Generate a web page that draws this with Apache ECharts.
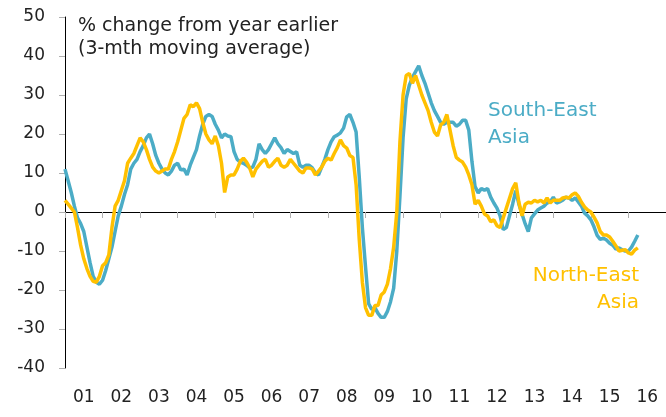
<!DOCTYPE html>
<html>
<head>
<meta charset="utf-8">
<script src="https://cdn.jsdelivr.net/npm/echarts@6/dist/echarts.min.js"></script>
<style>
  html, body { margin: 0; padding: 0; background: #fff; }
  #chart { width: 666px; height: 417px; }
</style>
</head>
<body>
<div id="chart"></div>
<script>
// 年份标签
var yearLabels = ['01', '02', '03', '04', '05', '06', '07', '08', '09', '10', '11', '12', '13', '14', '15', '16'];

// South-East Asia, 月度数据 (Jan 2001 - Apr 2016)
var southEast = [
    11, 8, 5, 1.5, -1.5, -3, -5, -9, -13, -16.5, -18, -18.5,
    -17.5, -15, -12, -9, -5, -1, 1.5, 4.5, 7, 11, 12.5, 13.5,
    15.5, 17, 19, 20, 17.5, 14.5, 12.5, 11, 10, 9.5, 10.5, 12,
    12.5, 10.8, 11, 9.5, 12, 14, 16, 19.5, 22.5, 24.5, 25, 24.5,
    22.5, 21, 19, 20, 19.5, 19.3, 15.5, 13.5, 12.8, 12.5, 12, 11.3,
    11.5, 13.5, 17.5, 16, 15, 16, 17.5, 19, 17.5, 16.5, 15, 16,
    15.5, 15, 15.4, 12, 11.5, 12, 12, 11.3, 10, 9.5, 11.5, 13.5,
    16, 18, 19.3, 19.7, 20.3, 21.5, 24.4, 25, 23, 20.5, 9, -4,
    -14, -23.5, -25, -24.5, -26, -27, -27, -25.5, -23, -19.5, -10, 4,
    19, 29, 32.5, 34.5, 36, 37.5, 35, 33, 30.5, 28, 26, 24.5,
    23, 22.5, 23, 23, 23, 22, 22.5, 23.5, 23.5, 21, 13, 6.5,
    4.9, 6, 5.6, 6, 3.8, 2.3, 1, -1, -4.5, -4, -1, 2,
    5.5, 2, -0.5, -3, -5, -1.5, -0.5, 0.5, 1, 1.5, 2.3, 2.6,
    3.8, 2.3, 2.6, 3, 3.8, 3.6, 3, 3.6, 2.6, 1.5, -0.3, -1,
    -2, -3.8, -6, -7, -6.7, -7.2, -8, -8.5, -9.5, -9.2, -9.7, -10,
    -10, -9, -7.5, -5.9
];

// North-East Asia
var northEast = [
    3, 2, 1, 0, -4, -8.5, -12, -14.5, -16.5, -17.8, -18, -16.5,
    -13.8, -13, -11, -4, 1.5, 3, 5.5, 8, 12.5, 13.8, 15, 17,
    19, 18, 16, 13.5, 11.5, 10.5, 10, 10.5, 11, 11, 13.5, 15.5,
    18, 21, 24, 25, 27.5, 27, 28, 26.5, 23, 20, 18.5, 17.5,
    19.5, 17, 12.5, 5, 9, 9.5, 9.5, 11, 13, 13.8, 12.8, 11.3,
    9, 11, 12, 13, 13.5, 11.5, 12, 13, 13.8, 12, 11.5, 12,
    13.5, 12.5, 11.5, 10.5, 10, 11.3, 11.3, 11, 9.5, 10.5, 11.5, 13,
    13.8, 13.3, 15, 16.5, 18.5, 17, 16.4, 14.5, 14, 7, -7, -18,
    -24.5, -26.5, -26.5, -24, -24, -21.3, -20.5, -18.5, -14.5, -9, 0, 18,
    30, 35, 35.5, 33, 35, 32.5, 30, 28, 26, 23, 20.5, 19.5,
    22.3, 23, 25, 21, 17, 14, 13.3, 12.8, 11.5, 9.5, 7, 2,
    3, 1.5, -0.5, -1, -2.5, -2, -3.5, -4, -1.5, 1, 3.5, 6,
    7.5, 2.5, -1, 2, 2.5, 2.3, 3, 2.6, 3, 2.3, 3.6, 2.3,
    3, 3, 3, 3.6, 3.8, 3.6, 4.4, 4.9, 4, 2.5, 1.3, 0.5,
    0, -1.3, -2.8, -5, -5.9, -5.9, -6.4, -7.5, -8.7, -10, -9.8, -9.7,
    -10.5, -10.8, -9.8, -9.2
];

// 月份类目: Jan 2001 .. Jan 2017
var months = [];
for (var y = 2001; y <= 2017; y++) {
    for (var m = 1; m <= 12; m++) {
        months.push(y + '-' + m);
        if (y === 2017) break;
    }
}

var FONT = '"DejaVu Sans", sans-serif';
var chart = echarts.init(document.getElementById('chart'));

var option = {
    animation: false,
    backgroundColor: '#fff',
    grid: { left: 65, right: -2, top: 17, bottom: 49 },
    xAxis: [{
        type: 'category',
        data: months,
        boundaryGap: false,
        position: 'bottom',
        axisLine: { onZero: true, lineStyle: { color: '#000', width: 1 } },
        axisTick: {
            show: true,
            length: 6,
            interval: function (i) { return i % 12 === 0; },
            lineStyle: { color: '#b0b0b0' }
        },
        axisLabel: { show: false },
        splitLine: { show: false }
    }, {
        type: 'category',
        data: yearLabels,
        boundaryGap: true,
        position: 'bottom',
        axisLine: { show: false, onZero: false },
        axisTick: { show: false },
        axisLabel: { fontFamily: FONT, fontSize: 17, color: '#222', margin: 21 },
        splitLine: { show: false }
    }],
    yAxis: {
        type: 'value',
        min: -40,
        max: 50,
        interval: 10,
        axisLine: { show: true, lineStyle: { color: '#000', width: 1 } },
        axisTick: { show: true, length: 6, lineStyle: { color: '#b0b0b0' } },
        axisLabel: { fontFamily: FONT, fontSize: 17, color: '#222', margin: 20 },
        splitLine: { show: false }
    },
    series: [{
        name: 'South-East Asia',
        type: 'line',
        data: southEast,
        showSymbol: false,
        lineStyle: { color: '#4BACC6', width: 3.5 },
        z: 2
    }, {
        name: 'North-East Asia',
        type: 'line',
        data: northEast,
        showSymbol: false,
        lineStyle: { color: '#FFC000', width: 3.5 },
        z: 3
    }],
    graphic: [
        { type: 'text', left: 78, top: 17, style: { text: '% change from year earlier', font: '19px ' + FONT, fill: '#222' } },
        { type: 'text', left: 78, top: 40, style: { text: '(3-mth moving average)', font: '19px ' + FONT, fill: '#222' } },
        { type: 'text', left: 488, top: 101, style: { text: 'South-East', font: '20px ' + FONT, fill: '#4BACC6' } },
        { type: 'text', left: 488, top: 128, style: { text: 'Asia', font: '20px ' + FONT, fill: '#4BACC6' } },
        { type: 'text', right: 27, top: 266, style: { text: 'North-East', font: '20px ' + FONT, fill: '#FFC000' } },
        { type: 'text', right: 27, top: 293, style: { text: 'Asia', font: '20px ' + FONT, fill: '#FFC000' } }
    ]
};

chart.setOption(option);
</script>
</body>
</html>
